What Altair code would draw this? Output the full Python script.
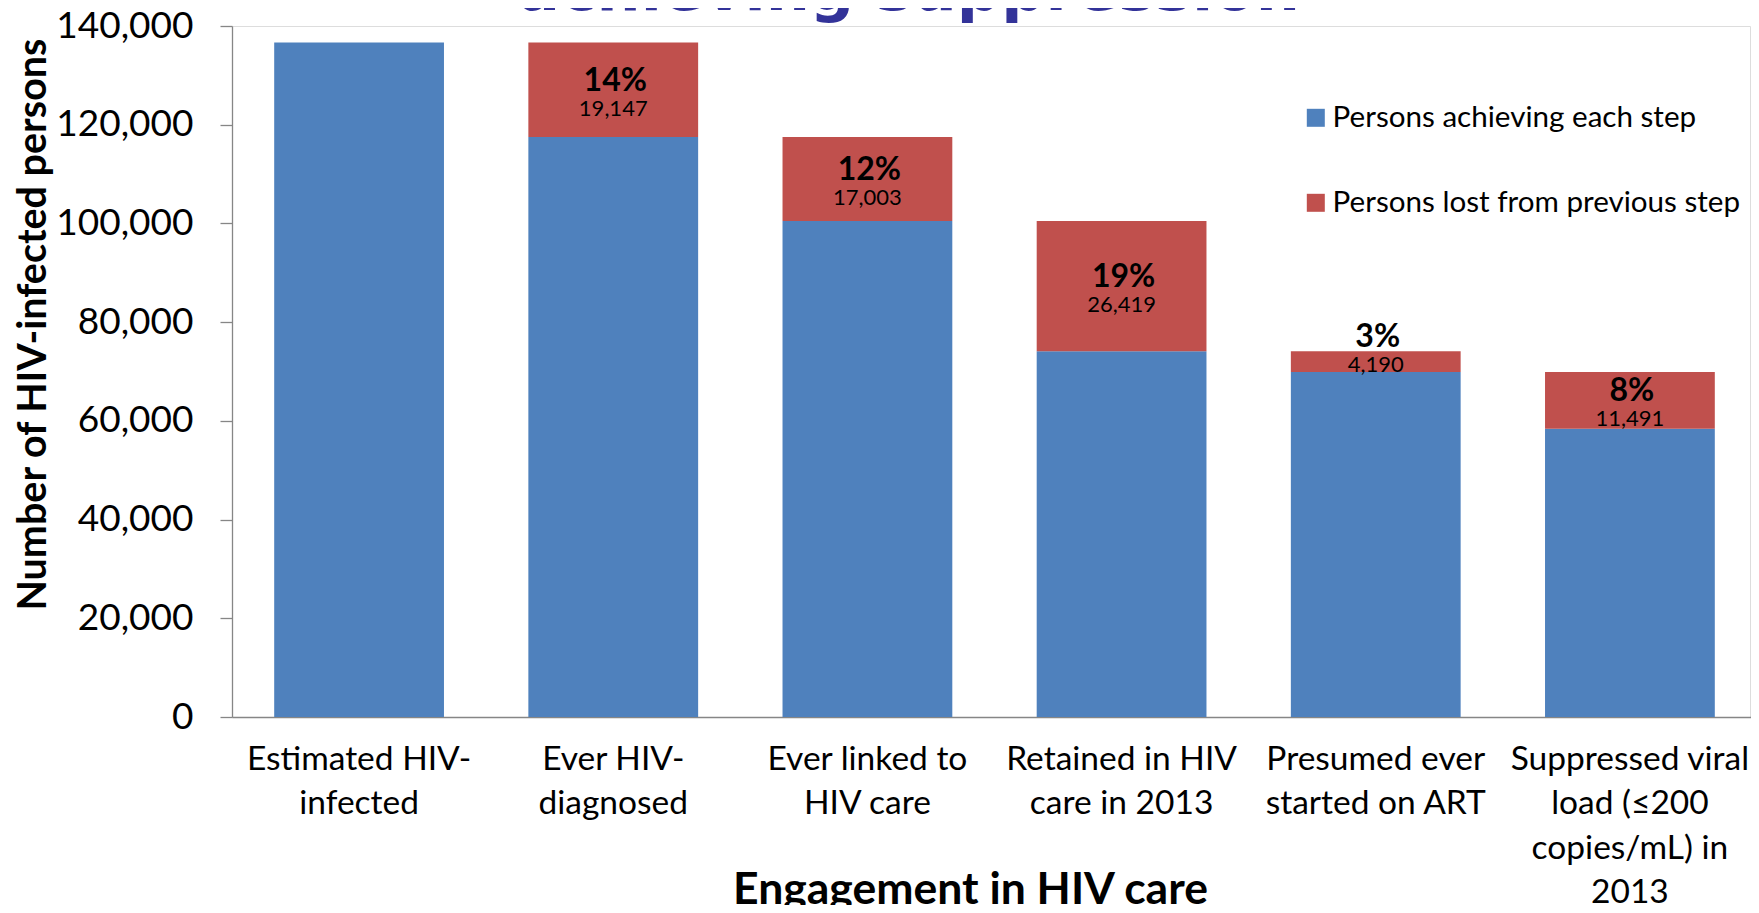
import altair as alt
import pandas as pd

# ---- data ----
categories = [
    "Estimated HIV-|infected",
    "Ever HIV-|diagnosed",
    "Ever linked to|HIV care",
    "Retained in HIV|care in 2013",
    "Presumed ever|started on ART",
    "Suppressed viral|load (≤200|copies/mL) in|2013",
]
achieving = [136650, 117503, 100500, 74081, 69891, 58400]
lost = [0, 19147, 17003, 26419, 4190, 11491]
pct_labels = ["", "14%", "12%", "19%", "3%", "8%"]
series_names = ["Persons achieving each step", "Persons lost from previous step"]
series_colors = ["#4F81BD", "#C0504D"]
y_ticks = [0, 20000, 40000, 60000, 80000, 100000, 120000, 140000]
title_text = "achieving suppression"
x_title = "Engagement in HIV care"
y_title = "Number of HIV-infected persons"

W, H = 1518, 691
X_RANGE = 1525

rows = []
for c, a, l in zip(categories, achieving, lost):
    rows.append({"cat": c, "series": series_names[0], "lo": 0, "hi": a})
    if l > 0:
        rows.append({"cat": c, "series": series_names[1], "lo": a, "hi": a + l})
bars_df = pd.DataFrame(rows)

lab_df = pd.DataFrame({"cat": categories, "ach": achieving, "lost": lost, "pct": pct_labels})
lab_df = lab_df[lab_df["lost"] > 0]

x_scale = alt.Scale(paddingInner=0.332, paddingOuter=0.166, range=[0, X_RANGE])

x_enc = alt.X(
    "cat:N",
    sort=categories,
    scale=x_scale,
    axis=alt.Axis(
        title=x_title,
        labelExpr="split(datum.label, '|')",
        labelAngle=0,
        labelFont="Lato",
        labelFontSize=33.5,
        labelLineHeight=44.5,
        labelColor="black",
        labelBaseline="top",
        labelPadding=26,
        labelLimit=500,
        labelOverlap=False,
        labelBound=False,
        ticks=False,
        domainColor="#868686",
        domainWidth=1.3,
        titleFont="Lato",
        titleFontWeight="bold",
        titleFontSize=44.5,
        titleColor="black",
        titleX=738,
        titleY=186,
        titleAlign="center",
        titleBaseline="alphabetic",
    ),
)

y_scale = alt.Scale(domain=[0, 140000], nice=False)

bars = alt.Chart(bars_df).mark_bar().encode(
    x=x_enc,
    y=alt.Y(
        "lo:Q",
        scale=y_scale,
        axis=alt.Axis(
            values=y_ticks,
            format=",.0f",
            title=y_title,
            grid=False,
            labelFont="Lato",
            labelFontSize=37,
            labelColor="black",
            labelPadding=27,
            tickSize=12,
            tickColor="#868686",
            tickWidth=1.3,
            domainColor="#868686",
            domainWidth=1.3,
            titleFont="Lato",
            titleFontWeight="bold",
            titleFontSize=39.5,
            titleColor="black",
            titleAngle=270,
            titleX=-187,
            titleY=298,
            titleAlign="center",
            titleBaseline="alphabetic",
        ),
    ),
    y2="hi:Q",
    color=alt.Color(
        "series:N",
        scale=alt.Scale(domain=series_names, range=series_colors),
        legend=alt.Legend(
            title=None,
            orient="none",
            legendX=1069,
            legendY=77,
            symbolType="square",
            symbolSize=324,
            symbolStrokeWidth=0,
            labelFont="Lato",
            labelFontSize=29.6,
            labelColor="black",
            labelOffset=2,
            labelLimit=600,
            rowPadding=54,
            padding=0,
        ),
    ),
)

base_lab = alt.Chart(lab_df).transform_calculate(
    anchor="datum.lost >= 10000 ? datum.ach + datum.lost / 2 : datum.ach + datum.lost + 1000"
)

pct_text = base_lab.mark_text(
    font="Lato", fontWeight="bold", fontSize=32, color="black", baseline="middle", dy=-9, dx=2
).encode(
    x=alt.X("cat:N", sort=categories, scale=x_scale),
    y=alt.Y("anchor:Q", scale=y_scale),
    text="pct:N",
)

num_text = base_lab.mark_text(
    font="Lato", fontSize=22, color="black", baseline="middle", dy=19
).encode(
    x=alt.X("cat:N", sort=categories, scale=x_scale),
    y=alt.Y("anchor:Q", scale=y_scale),
    text=alt.Text("lost:Q", format=",.0f"),
)

title_mark = alt.Chart(pd.DataFrame({"t": [title_text]})).mark_text(
    font="DejaVu Sans", fontWeight="bold", fontSize=62, color="#333399",
    align="center", baseline="alphabetic"
).encode(text="t:N", x=alt.value(677), y=alt.value(-16))

chart = alt.layer(bars, pct_text, num_text, title_mark).properties(
    width=W,
    height=H,
    autosize=alt.AutoSizeParams(type="none"),
    padding={"left": 224, "top": 18, "right": 1, "bottom": 188},
).configure_view(stroke=None).configure(background="white")

chart.save("out.html", embed_options={"renderer": "svg", "actions": False})
